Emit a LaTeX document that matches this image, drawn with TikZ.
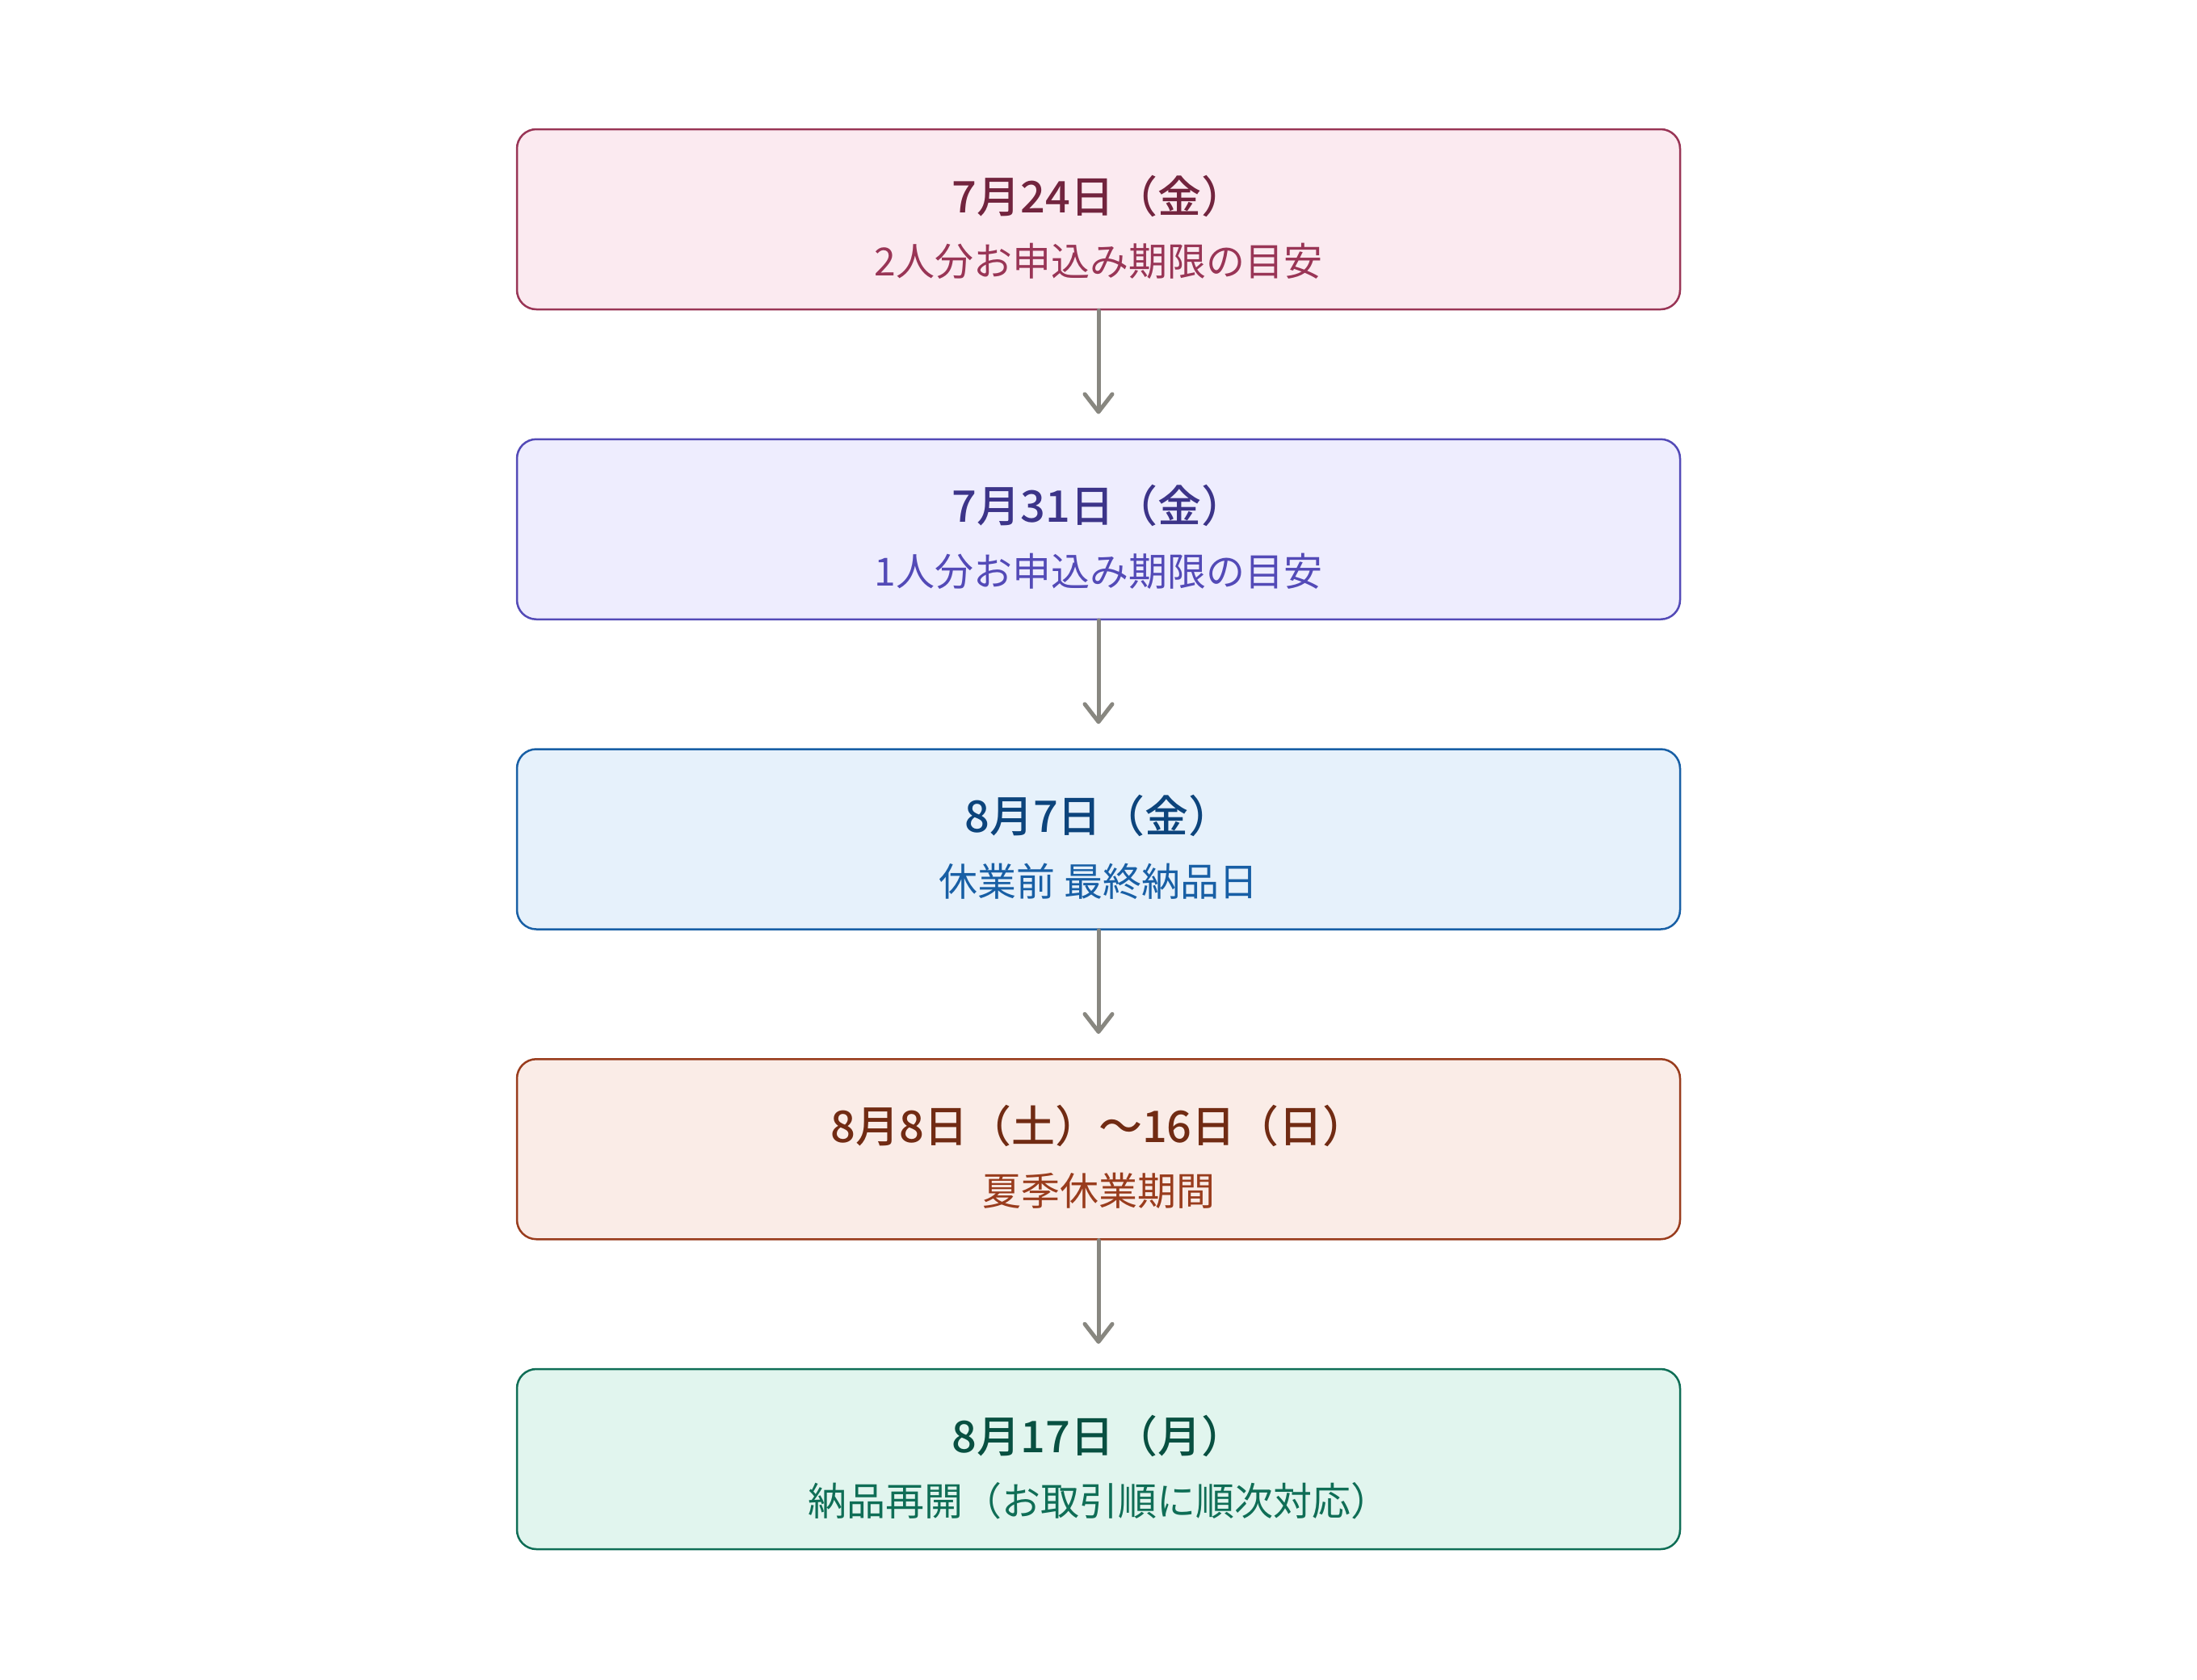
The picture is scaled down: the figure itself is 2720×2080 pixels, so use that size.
\documentclass[tikz,border=0pt]{standalone}
\usepackage{fontspec}
\setmainfont{Noto Sans CJK JP}
\newfontfamily\medfont{Noto Sans CJK JP}[UprightFont={* Medium}]
\usetikzlibrary{arrows.meta}
\definecolor{pinkF}{HTML}{FBEAF0}\definecolor{pinkB}{HTML}{993556}\definecolor{pinkT}{HTML}{72243E}
\definecolor{purpF}{HTML}{EEEDFE}\definecolor{purpB}{HTML}{534AB7}\definecolor{purpT}{HTML}{3C3489}
\definecolor{blueF}{HTML}{E6F1FB}\definecolor{blueB}{HTML}{185FA5}\definecolor{blueT}{HTML}{0C447C}
\definecolor{coraF}{HTML}{FAECE7}\definecolor{coraB}{HTML}{993C1D}\definecolor{coraT}{HTML}{712B13}
\definecolor{tealF}{HTML}{E1F5EE}\definecolor{tealB}{HTML}{0F6E56}\definecolor{tealT}{HTML}{085041}
\definecolor{arrowgray}{HTML}{888780}
\begin{document}
\begin{tikzpicture}[x=1pt,y=-1pt,
  box/.style n args={2}{draw=#1,fill=#2,line width=2.5pt,rounded corners=24pt,
    minimum width=1440pt,minimum height=223pt,inner sep=0pt},
  ttl/.style={anchor=base,inner sep=0pt,font=\fontsize{54}{62}\medfont,text=#1},
  sub/.style={anchor=base,inner sep=0pt,font=\fontsize{48}{56}\selectfont,text=#1},
  arr/.style={draw=arrowgray,line width=5pt,line cap=round,
    -{Straight Barb[round,length=22pt,width=34pt]},shorten >=30pt}]
\useasboundingbox (0,0) rectangle (2720,2080);
\fill[white] (0,0) rectangle (2720,2080);

\node[box={pinkB}{pinkF}] (b1) at (1360,271.5) {};
\node[ttl=pinkT] (t1) at (1360,263) {7月24日（金）};
\node[sub=pinkB] (s1) at (1360,341.5) {2人分お申込み期限の目安};

\node[box={purpB}{purpF}] (b2) at (1360,655.25) {};
\node[ttl=purpT] (t2) at (1360,646.75) {7月31日（金）};
\node[sub=purpB] (s2) at (1360,725.25) {1人分お申込み期限の目安};

\node[box={blueB}{blueF}] (b3) at (1360,1039) {};
\node[ttl=blueT] (t3) at (1360,1030.5) {8月7日（金）};
\node[sub=blueB] (s3) at (1360,1109) {休業前 最終納品日};

\node[box={coraB}{coraF}] (b4) at (1360,1422.75) {};
\node[ttl=coraT] (t4) at (1360,1414.25) {8月8日（土）〜16日（日）};
\node[sub=coraB] (s4) at (1360,1492.75) {夏季休業期間};

\node[box={tealB}{tealF}] (b5) at (1360,1806.5) {};
\node[ttl=tealT] (t5) at (1360,1798) {8月17日（月）};
\node[sub=tealB] (s5) at (1360,1876.5) {納品再開（お取引順に順次対応）};

\draw[arr] (b1.south) -- (b2.north);
\draw[arr] (b2.south) -- (b3.north);
\draw[arr] (b3.south) -- (b4.north);
\draw[arr] (b4.south) -- (b5.north);
\end{tikzpicture}
\end{document}
